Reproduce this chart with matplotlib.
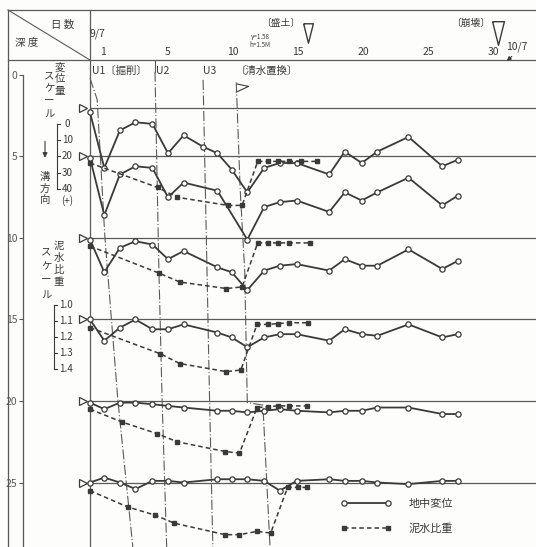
import matplotlib
matplotlib.use("Agg")
import matplotlib.pyplot as plt
import numpy as np

plt.rcParams["font.family"] = ["Noto Sans CJK JP", "DejaVu Sans"]

INK = "#3a3a3a"
FRAME = "#5a5a5a"

# gauge depths (m) and measurement days (days since 9/7)
GAUGE_DEPTHS = [2, 5, 10, 15, 20, 25]
DAYS = [-1.0, 0.1, 1.3, 2.5, 3.8, 5.0, 6.2, 7.7, 8.8, 9.9, 11.1,
        12.4, 13.6, 14.9, 17.4, 18.6, 19.9, 21.1, 23.5, 26.1, 27.3]

# ground displacement (mm, + toward trench)
nan = np.nan
DISP_2M = [3, 37, 14, 9, 10, 28, 17, 24, 28, 38, 52, 37, 34, 34, 41, 27, 34, 27, 18, 36, 32]
DISP_5M = [1, 36, 11, 6, 7, 25, 16, nan, 21, nan, 51, 31, 28, 27, 34, 22, 27, 22, 13, 30, 24]
DISP_10M = [1, 21, 6, 2, 4, 13, 8, nan, 18, 21, 32, 20, 17, 16, 20, 13, 17, 17, 7, 19, 14]
DISP_15M = [0, 13, 5, 0, 6, 6, 3, nan, 8, 11, 17, 11, 9, 9, 13, 6, 9, 10, 3, 11, 9]
DISP_20M = [1, 5, 1, 1, 2, 3, 4, nan, 6, 6, 7, 6, 5, 6, 7, 6, 6, 4, 4, 8, 8]
DISP_25M = [0, -3, 0, 4, -1, -1, 0, nan, -2, -2, -2, -1, 5, -1, -2, -1, -1, 0, 1, -1, -1]

# slurry specific gravity
MUD_DAYS_5M = [-1.0, 4.2, 5.7, 9.6, 10.7, 11.9, 12.7, 13.5, 14.3, 15.2, 16.5]
MUD_5M = [1.04, 1.19, 1.25, 1.30, 1.30, 1.03, 1.03, 1.03, 1.03, 1.03, 1.03]
MUD_DAYS_10M = [-1.0, 4.3, 5.9, 9.5, 10.7, 11.9, 12.7, 13.5, 14.3, 15.9]
MUD_10M = [1.05, 1.215, 1.27, 1.31, 1.30, 1.03, 1.03, 1.03, 1.03, 1.03]
MUD_DAYS_15M = [-1.0, 4.4, 5.9, 9.5, 10.6, 11.85, 12.7, 13.5, 14.3, 15.8]
MUD_15M = [1.05, 1.21, 1.27, 1.32, 1.31, 1.03, 1.03, 1.025, 1.02, 1.02]
MUD_DAYS_20M = [-1.0, 1.5, 4.15, 5.7, 9.4, 10.5, 11.85, 12.7, 13.5, 14.3, 15.7]
MUD_20M = [1.05, 1.13, 1.20, 1.25, 1.31, 1.32, 1.04, 1.035, 1.03, 1.03, 1.03]
MUD_DAYS_25M = [-1.0, 1.9, 4.0, 5.5, 9.4, 10.5, 11.85, 12.9, 14.2, 15.0, 15.7]
MUD_25M = [1.05, 1.15, 1.20, 1.25, 1.32, 1.32, 1.30, 1.31, 1.03, 1.03, 1.03]

# construction stage lines (day, depth)
STAGE_U1 = [(-1.0, 0.2), (-0.45, 1.5), (0.15, 10.0), (1.15, 20.0), (2.3, 29.0)]
STAGE_U2 = [(4.0, -0.2), (4.3, 12.0), (4.55, 20.0), (4.9, 29.0)]
STAGE_U3 = [(7.7, 0.3), (8.0, 12.0), (8.2, 20.0), (8.45, 29.0)]
STAGE_WATER = [(10.25, 0.45), (10.55, 7.0), (10.9, 12.0), (11.1, 20.1),
               (12.3, 20.25), (12.85, 29.0)]

DAY_TICKS = [0, 5, 10, 15, 20, 25, 30]
DAY_LABELS = ["1", "5", "10", "15", "20", "25", "30"]
DEPTH_TICKS = [0, 5, 10, 15, 20, 25]
DISP_SCALE = [0, 10, 20, 30, 40]
MUD_SCALE = [1.0, 1.1, 1.2, 1.3, 1.4]
EVENTS = [("〔盛土〕", 15.75), ("〔崩壊〕", 30.4)]


def vtext(ax, s, x, y0, step, size=7.5):
    for i, ch in enumerate(s):
        ax.text(x, y0 + i * step, ch, ha="center", va="center", fontsize=size, color=INK)


def main():
    fig = plt.figure(figsize=(5.36, 5.47), dpi=100)
    fig.patch.set_facecolor("#fdfdfb")
    ax = fig.add_axes([0, 0, 1, 1])
    ax.set_facecolor("#fdfdfb")
    ax.set_xlim(-7.923, 33.308)
    ax.set_ylim(28.957, -4.601)
    for s in ["top", "right", "bottom"]:
        ax.spines[s].set_visible(False)
    ax.set_xticks([])

    # depth axis
    ax.spines["left"].set_position(("data", -6.15))
    ax.spines["left"].set_bounds(0, 28.957)
    ax.spines["left"].set_color(FRAME)
    ax.spines["left"].set_linewidth(0.9)
    ax.set_yticks(DEPTH_TICKS)
    ax.set_yticklabels([str(d) for d in DEPTH_TICKS])
    ax.tick_params(axis="y", direction="out", length=3, width=0.8, pad=1,
                   labelsize=7.5, colors=FRAME)

    # frame
    top, head = -3.99, -0.92
    ax.plot([-7.31, 33.308], [top, top], color=FRAME, lw=0.9)
    ax.plot([-7.31, 33.308], [head, head], color=FRAME, lw=0.9)
    ax.plot([-7.31, -7.31], [top, 28.957], color=FRAME, lw=0.9)
    ax.plot([-1.0, -1.0], [top, 28.957], color=FRAME, lw=0.9)
    ax.plot([-7.31, -1.0], [top, head], color=FRAME, lw=0.8)
    ax.text(-3.1, -3.05, "日 数", fontsize=7.5, color=INK, ha="center", va="center")
    ax.text(-5.85, -1.95, "深 度", fontsize=7.5, color=INK, ha="center", va="center")

    # header: days
    ax.text(-0.45, -2.55, "9/7", fontsize=7.5, color=INK, ha="center", va="center")
    for t, lab in zip(DAY_TICKS, DAY_LABELS):
        ax.text(t, -1.4, lab, fontsize=7.5, color=INK, ha="center", va="center")
    for name, t in EVENTS:
        ax.plot([t], [-2.55], marker=[(-0.5, 1), (0.5, 1), (0, -1), (-0.5, 1)],
                ms=14 if t < 20 else 17, mfc="none", mec=INK, mew=1.0, ls="none")
        ax.text(t - 2.1, -3.2, name, fontsize=7, color=INK, ha="center", va="center")
    ax.text(12.1, -2.33, "γ=1.58", fontsize=4.5, color=INK, ha="center", va="center")
    ax.text(12.1, -1.84, "h=1.5M", fontsize=4.5, color=INK, ha="center", va="center")
    ax.text(31.8, -1.75, "10/7", fontsize=7.5, color=INK, ha="center", va="center")
    ax.annotate("", xy=(30.9, -0.75), xytext=(31.6, -1.25),
                arrowprops=dict(arrowstyle="-|>", color=INK, lw=0.8, mutation_scale=6))

    # stage labels
    ax.text(-0.85, -0.25, "U1〔掘削〕", fontsize=7.5, color=INK, ha="left", va="center")
    ax.text(4.6, -0.25, "U2", fontsize=7.5, color=INK, ha="center", va="center")
    ax.text(8.2, -0.25, "U3", fontsize=7.5, color=INK, ha="center", va="center")
    ax.text(10.2, -0.25, "〔清水置換〕", fontsize=7.5, color=INK, ha="left", va="center")
    ax.plot([10.25, 11.2, 10.3], [1.05, 0.7, 0.55], color=INK, lw=0.8)

    # stage lines
    for line in [STAGE_U1, STAGE_U2, STAGE_U3, STAGE_WATER]:
        xs, ys = zip(*line)
        ax.plot(xs, ys, color=FRAME, lw=0.8, ls=(0, (9, 2, 1, 2)))
    ax.plot([4.0, 4.0], [head, -0.2], color=FRAME, lw=0.8)

    # gauge baselines
    ax.hlines(GAUGE_DEPTHS, -1.0, 33.308, color=FRAME, lw=0.9)
    ax.plot([-1.55] * len(GAUGE_DEPTHS), GAUGE_DEPTHS, ls="none", marker=">",
            ms=6, mfc="white", mec=INK, mew=0.9)

    # ground displacement
    disp_series = [DISP_2M, DISP_5M, DISP_10M, DISP_15M, DISP_20M, DISP_25M]
    days = np.array(DAYS)
    solid = None
    for depth, disp in zip(GAUGE_DEPTHS, disp_series):
        v = np.array(disp, dtype=float)
        ok = ~np.isnan(v)
        solid, = ax.plot(days[ok], depth + v[ok] / 10.0, color=INK, lw=1.3,
                         marker="o", ms=3.8, mfc="white", mec=INK, mew=0.9)

    # slurry specific gravity
    mud_series = [(5, MUD_DAYS_5M, MUD_5M), (10, MUD_DAYS_10M, MUD_10M),
                  (15, MUD_DAYS_15M, MUD_15M), (20, MUD_DAYS_20M, MUD_20M),
                  (25, MUD_DAYS_25M, MUD_25M)]
    dashed = None
    for depth, d, g in mud_series:
        dashed, = ax.plot(d, depth + (np.array(g) - 1.0) * 10.0, color=INK, lw=1.1,
                          ls=(0, (3, 2)), marker="s", ms=2.6, mfc=INK, mec=INK)

    # left scales
    vtext(ax, "変位量", -3.3, -0.45, 0.72)
    vtext(ax, "スケール", -4.15, 0.0, 0.82)
    ax.plot([-3.54, -3.54], [3.0, 7.0], color=INK, lw=0.8)
    for v in DISP_SCALE:
        ax.plot([-3.54, -3.3], [3.0 + v / 10.0] * 2, color=INK, lw=0.8)
        ax.text(-2.75, 3.0 + v / 10.0, str(v), fontsize=7, color=INK, ha="center", va="center")
    ax.annotate("", xy=(-4.46, 5.25), xytext=(-4.46, 3.9),
                arrowprops=dict(arrowstyle="-|>", color=INK, lw=0.8, mutation_scale=7))
    vtext(ax, "溝方向", -4.46, 6.25, 0.72)
    ax.text(-2.75, 7.7, "(+)", fontsize=7, color=INK, ha="center", va="center")

    vtext(ax, "泥水比重", -3.4, 10.5, 0.73)
    vtext(ax, "スケール", -4.35, 10.85, 0.9)
    ax.plot([-3.8, -3.8], [14.1, 18.05], color=INK, lw=0.8)
    for g in MUD_SCALE:
        yy = 14.1 + (g - 1.0) * 10.0 * 0.985
        ax.plot([-3.8, -3.55], [yy, yy], color=INK, lw=0.8)
        ax.text(-2.85, yy, f"{g:.1f}", fontsize=7, color=INK, ha="center", va="center")

    leg = ax.legend([solid, dashed], ["地中変位", "泥水比重"], loc="upper left",
                    bbox_to_anchor=(0.636, 0.088), frameon=False, numpoints=2,
                    handlelength=4.5, handletextpad=1.6, labelspacing=1.25,
                    borderpad=0, borderaxespad=0, fontsize=8)
    for txt in leg.get_texts():
        txt.set_color(INK)

    fig.savefig("out.png", dpi=100, facecolor=fig.get_facecolor())
    plt.close(fig)


if __name__ == "__main__":
    main()
